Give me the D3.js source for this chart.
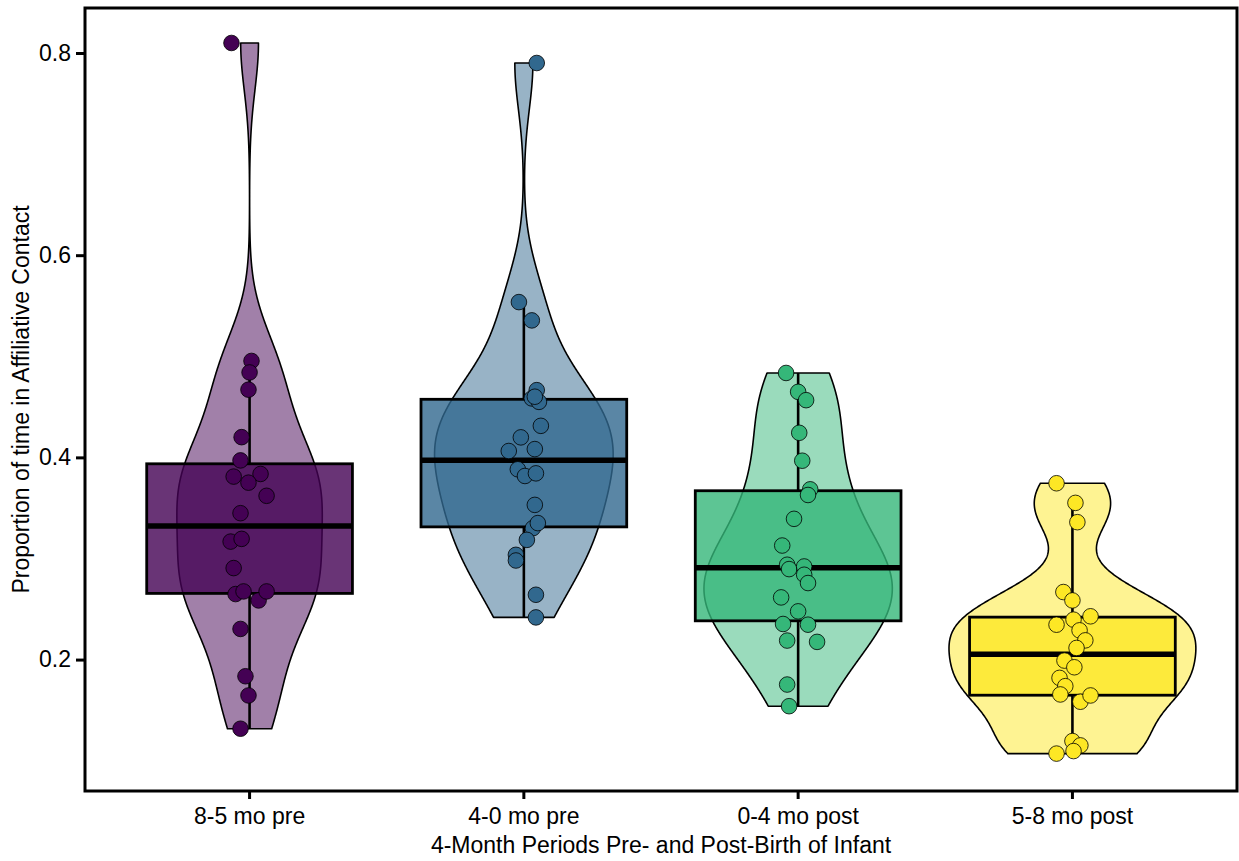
<!DOCTYPE html>
<html>
<head>
<meta charset="utf-8">
<script src="https://cdn.jsdelivr.net/npm/d3@7/dist/d3.min.js"></script>
<style>
  html, body { margin: 0; padding: 0; background: #ffffff; }
  svg { display: block; }
  text { font-family: "Liberation Sans", Arial, sans-serif; fill: #000; }
</style>
</head>
<body>
<svg id="chart" width="1239" height="861"></svg>
<script>
// ---------------- data ----------------
const categories = ["8-5 mo pre", "4-0 mo pre", "0-4 mo post", "5-8 mo post"];
const groupColors = ["#440154", "#31688E", "#35B779", "#FDE725"];
const yTickValues = [0.2, 0.4, 0.6, 0.8];
const xTitle = "4-Month Periods Pre- and Post-Birth of Infant";
const yTitle = "Proportion of time in Affiliative Contact";

// proportions per period
const values85pre = [0.8099, 0.4954, 0.484, 0.467, 0.420, 0.397, 0.381, 0.3836, 0.375, 0.362, 0.3448,
  0.3167, 0.3194, 0.2905, 0.2648, 0.2674, 0.2585, 0.2674, 0.2303, 0.1835, 0.1645, 0.1316];
const values40pre = [0.7901, 0.5536, 0.5355, 0.4665, 0.4583, 0.4549, 0.4600, 0.4312, 0.4198, 0.4082, 0.4063,
  0.3882, 0.3816, 0.3842, 0.353, 0.330, 0.335, 0.3184, 0.3036, 0.298, 0.2641, 0.2417];
const values04post = [0.4835, 0.4648, 0.4566, 0.4243, 0.3967, 0.3684, 0.3628, 0.3392, 0.3128, 0.2938, 0.2895,
  0.2921, 0.2839, 0.2757, 0.2615, 0.2477, 0.2352, 0.2345, 0.2188, 0.2175, 0.1753, 0.1539];
const values58post = [0.3744, 0.355, 0.3359, 0.2668, 0.2585, 0.2345, 0.2395, 0.2428, 0.2289, 0.219, 0.2115,
  0.199, 0.1924, 0.1819, 0.1737, 0.1655, 0.1583, 0.1645, 0.1194, 0.1151, 0.1095, 0.107];

// horizontal jitter of each point, in category units (as observed)
const jitter85pre = [-0.066, 0.007, 0.0, -0.004, -0.029, -0.033, -0.058, 0.040, -0.004, 0.062, -0.033,
  -0.069, -0.029, -0.058, -0.051, -0.022, 0.033, 0.062, -0.033, -0.015, -0.004, -0.033];
const jitter40pre = [0.047, -0.018, 0.029, 0.047, 0.029, 0.055, 0.040, 0.062, -0.011, 0.040, -0.055,
  -0.022, 0.004, 0.044, 0.040, 0.033, 0.051, 0.011, -0.029, -0.029, 0.044, 0.044];
const jitter04post = [-0.044, 0.0, 0.029, 0.004, 0.015, 0.044, 0.036, -0.015, -0.058, -0.040, -0.033,
  0.022, 0.022, 0.036, -0.062, 0.0, -0.055, 0.036, -0.040, 0.069, -0.040, -0.033];
const jitter58post = [-0.058, 0.011, 0.018, -0.033, 0.0, -0.058, 0.004, 0.066, 0.026, 0.047, 0.015,
  -0.029, 0.007, -0.047, -0.026, -0.044, 0.029, 0.066, 0.0, 0.029, 0.004, -0.058];

const groupValues = [values85pre, values40pre, values04post, values58post];
const groupJitter = [jitter85pre, jitter40pre, jitter04post, jitter58post];

// ---------------- layout ----------------
const panel = { left: 85, right: 1237, top: 8, bottom: 791 };
const FONT = 23;

const svg = d3.select("#chart");

const x = d3.scaleBand()
  .domain(categories)
  .range([panel.left, panel.right])
  .paddingInner(0)
  .paddingOuter(0.1);
const step = x.step();
const cx = c => x(c) + x.bandwidth() / 2;

const y = d3.scaleLinear()
  .domain([0.07, 0.8445])
  .range([panel.bottom, panel.top]);

// ---------------- statistics ----------------
function kde(vals) {
  const s = vals.slice().sort(d3.ascending);
  const n = s.length;
  const sd = d3.deviation(s);
  const iqr = d3.quantileSorted(s, 0.75) - d3.quantileSorted(s, 0.25);
  const bw = 0.9 * Math.min(sd, iqr / 1.34) * Math.pow(n, -0.2);
  const lo = s[0], hi = s[n - 1];
  const pts = [];
  const N = 512;
  for (let i = 0; i < N; i++) {
    const t = lo + (hi - lo) * i / (N - 1);
    let d = 0;
    for (const v of s) {
      const z = (t - v) / bw;
      d += Math.exp(-0.5 * z * z);
    }
    d = d / (n * bw * Math.sqrt(2 * Math.PI));
    pts.push({ v: t, d: d });
  }
  return pts;
}

function boxStats(vals) {
  const s = vals.slice().sort(d3.ascending);
  const q1 = d3.quantileSorted(s, 0.25);
  const med = d3.quantileSorted(s, 0.5);
  const q3 = d3.quantileSorted(s, 0.75);
  const iqr = q3 - q1;
  const upper = d3.max(s.filter(v => v <= q3 + 1.5 * iqr));
  const lower = d3.min(s.filter(v => v >= q1 - 1.5 * iqr));
  return { q1, med, q3, upper, lower };
}

const dens = groupValues.map(kde);
const maxD = d3.max(dens, g => d3.max(g, p => p.d));

// ---------------- violins ----------------
const gViolin = svg.append("g");
dens.forEach((g, i) => {
  const c = cx(categories[i]);
  const area = d3.area()
    .x0(p => c - 0.45 * step * p.d / maxD)
    .x1(p => c + 0.45 * step * p.d / maxD)
    .y(p => y(p.v));
  gViolin.append("path")
    .datum(g)
    .attr("d", area)
    .attr("fill", groupColors[i])
    .attr("fill-opacity", 0.5)
    .attr("stroke", "#000")
    .attr("stroke-width", 1.6)
    .attr("stroke-linejoin", "round");
});

// ---------------- boxplots ----------------
const gBox = svg.append("g");
groupValues.forEach((vals, i) => {
  const st = boxStats(vals);
  const c = cx(categories[i]);
  const half = 0.375 * step;
  gBox.append("line")
    .attr("x1", c).attr("x2", c)
    .attr("y1", y(st.q3)).attr("y2", y(st.upper))
    .attr("stroke", "#000").attr("stroke-width", 2.6);
  gBox.append("line")
    .attr("x1", c).attr("x2", c)
    .attr("y1", y(st.q1)).attr("y2", y(st.lower))
    .attr("stroke", "#000").attr("stroke-width", 2.6);
  gBox.append("rect")
    .attr("x", c - half).attr("width", 2 * half)
    .attr("y", y(st.q3)).attr("height", y(st.q1) - y(st.q3))
    .attr("fill", groupColors[i]).attr("fill-opacity", 0.8)
    .attr("stroke", "#000").attr("stroke-width", 2.8);
  gBox.append("line")
    .attr("x1", c - half).attr("x2", c + half)
    .attr("y1", y(st.med)).attr("y2", y(st.med))
    .attr("stroke", "#000").attr("stroke-width", 5.5);
});

// ---------------- jittered points ----------------
const gPts = svg.append("g");
groupValues.forEach((vals, i) => {
  const c = cx(categories[i]);
  gPts.selectAll(null)
    .data(vals.map((v, k) => ({ v, j: groupJitter[i][k] })))
    .enter().append("circle")
    .attr("cx", d => c + d.j * step)
    .attr("cy", d => y(d.v))
    .attr("r", 7.8)
    .attr("fill", groupColors[i])
    .attr("stroke", "#000")
    .attr("stroke-width", 0.8);
});

// ---------------- panel border ----------------
svg.append("rect")
  .attr("x", panel.left).attr("y", panel.top)
  .attr("width", panel.right - panel.left)
  .attr("height", panel.bottom - panel.top)
  .attr("fill", "none")
  .attr("stroke", "#000")
  .attr("stroke-width", 3);

// ---------------- axes ----------------
const yAxis = d3.axisLeft(y)
  .tickValues(yTickValues)
  .tickFormat(d3.format(".1f"))
  .tickSize(9)
  .tickPadding(5);
const gy = svg.append("g")
  .attr("transform", `translate(${panel.left},0)`)
  .call(yAxis);
gy.select(".domain").remove();
gy.selectAll(".tick line").attr("stroke", "#000").attr("stroke-width", 3);
gy.selectAll(".tick text")
  .attr("font-size", FONT)
  .attr("font-family", "Liberation Sans, Arial, sans-serif")
  .attr("fill", "#000");

const xAxis = d3.axisBottom(x)
  .tickSize(8)
  .tickPadding(9);
const gx = svg.append("g")
  .attr("transform", `translate(0,${panel.bottom})`)
  .call(xAxis);
gx.select(".domain").remove();
gx.selectAll(".tick line").attr("stroke", "#000").attr("stroke-width", 3);
gx.selectAll(".tick text")
  .attr("font-size", FONT)
  .attr("font-family", "Liberation Sans, Arial, sans-serif")
  .attr("fill", "#000");

// titles
svg.append("text")
  .attr("x", (panel.left + panel.right) / 2)
  .attr("y", 853)
  .attr("text-anchor", "middle")
  .attr("font-size", FONT)
  .text(xTitle);

svg.append("text")
  .attr("transform", `translate(29,${(panel.top + panel.bottom) / 2}) rotate(-90)`)
  .attr("text-anchor", "middle")
  .attr("font-size", FONT)
  .text(yTitle);
</script>
</body>
</html>
